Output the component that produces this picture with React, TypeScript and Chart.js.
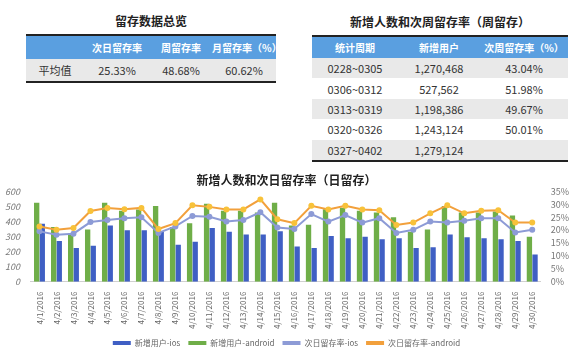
import React, { useEffect, useRef } from "react";
import { Chart, registerables } from "chart.js";

Chart.register(...registerables);

const dates = [
  "4/1/2016", "4/2/2016", "4/3/2016", "4/4/2016", "4/5/2016", "4/6/2016", "4/7/2016", "4/8/2016",
  "4/9/2016", "4/10/2016", "4/11/2016", "4/12/2016", "4/13/2016", "4/14/2016", "4/15/2016",
  "4/16/2016", "4/17/2016", "4/18/2016", "4/19/2016", "4/20/2016", "4/21/2016", "4/22/2016",
  "4/23/2016", "4/24/2016", "4/25/2016", "4/26/2016", "4/27/2016", "4/28/2016", "4/29/2016", "4/30/2016",
];
const newIos = [385, 271, 224, 239, 374, 342, 342, 331, 245, 266, 357, 331, 314, 314, 335, 234, 224, 303, 288, 299, 282, 288, 224, 228, 314, 295, 288, 282, 271, 181];
const newAndroid = [524, 363, 320, 346, 524, 471, 480, 503, 363, 389, 518, 471, 471, 460, 524, 374, 379, 482, 492, 471, 460, 428, 331, 346, 503, 460, 460, 466, 439, 299];
const retIos = [19.5, 18.2, 18.6, 23.1, 23.9, 24.6, 25.0, 18.9, 21.4, 25.5, 25.2, 23.3, 23.9, 26.9, 21.0, 20.4, 26.2, 23.3, 25.8, 22.9, 24.6, 18.9, 20.1, 23.3, 22.9, 23.6, 24.6, 24.6, 19.1, 20.1];
const retAndroid = [21.4, 20.1, 20.8, 27.4, 28.6, 28.1, 28.6, 20.4, 22.7, 29.6, 29.0, 28.0, 28.0, 31.9, 24.2, 22.7, 29.4, 28.0, 29.4, 28.0, 27.7, 22.0, 22.9, 26.5, 29.6, 26.5, 27.5, 27.7, 22.9, 22.9];

const seriesNames = ["新增用户-ios", "新增用户-android", "次日留存率-ios", "次日留存率-android"];
const chartTitle = "新增人数和次日留存率（日留存）";

const summaryTitle = "留存数据总览";
const summaryHeaders = ["", "次日留存率", "周留存率", "月留存率（%）"];
const summaryRow = ["平均值", "25.33%", "48.68%", "60.62%"];

const weeklyTitle = "新增人数和次周留存率（周留存）";
const weeklyHeaders = ["统计周期", "新增用户", "次周留存率（%）"];
const weeklyPeriods = ["0228~0305", "0306~0312", "0313~0319", "0320~0326", "0327~0402"];
const weeklyUsers = ["1,270,468", "527,562", "1,198,386", "1,243,124", "1,279,124"];
const weeklyRates = ["43.04%", "51.98%", "49.67%", "50.01%", ""];

const FONT = '"Noto Sans CJK SC", "Noto Sans", sans-serif';
const HEADER_BLUE = "#5a9fe0";
const ROW_GRAY = "#e9e9e9";

function App() {
  const ref = useRef<HTMLCanvasElement | null>(null);

  useEffect(() => {
    if (!ref.current) return;
    const chart = new Chart(ref.current, {
      type: "bar",
      data: {
        labels: dates,
        datasets: [
          {
            type: "line",
            label: seriesNames[2],
            data: retIos,
            yAxisID: "y1",
            borderColor: "#8d9bd6",
            backgroundColor: "#8d9bd6",
            borderWidth: 2,
            pointRadius: 2,
            pointBackgroundColor: "#8d9bd6",
            pointBorderColor: "#8d9bd6",
            order: 1,
          },
          {
            type: "line",
            label: seriesNames[3],
            data: retAndroid,
            yAxisID: "y1",
            borderColor: "#f2a03c",
            backgroundColor: "#f2a03c",
            borderWidth: 2,
            pointRadius: 2,
            pointBackgroundColor: "#f8c23a",
            pointBorderColor: "#f8c23a",
            order: 0,
          },
          {
            type: "bar",
            label: seriesNames[0],
            data: newIos,
            yAxisID: "y",
            backgroundColor: "#3f5fc4",
            categoryPercentage: 0.66,
            barPercentage: 0.95,
            order: 3,
          },
          {
            type: "bar",
            label: seriesNames[1],
            data: newAndroid,
            yAxisID: "y",
            backgroundColor: "#6fae48",
            categoryPercentage: 0.66,
            barPercentage: 0.95,
            order: 2,
          },
        ],
      },
      options: {
        animation: false,
        responsive: false,
        maintainAspectRatio: false,
        layout: { padding: { top: 2, left: 2, right: 0, bottom: 0 } },
        plugins: {
          title: {
            display: true,
            text: chartTitle,
            font: { family: FONT, size: 12, weight: "bold" },
            color: "#222",
            padding: { top: 4, bottom: 4 },
          },
          legend: {
            position: "bottom",
            padding: 0,
            labels: {
              font: { family: FONT, size: 8 },
              color: "#666",
              boxWidth: 18,
              boxHeight: 4,
              padding: 8,
              generateLabels: (c: any) => {
                const order = [2, 3, 0, 1];
                return order.map((i) => {
                  const ds = c.data.datasets[i];
                  return {
                    text: ds.label,
                    fillStyle: ds.type === "line" ? ds.borderColor : ds.backgroundColor,
                    strokeStyle: ds.type === "line" ? ds.borderColor : ds.backgroundColor,
                    lineWidth: 0,
                    hidden: false,
                    datasetIndex: i,
                    fontColor: "#666",
                  };
                });
              },
            },
          },
          tooltip: { enabled: false },
        },
        scales: {
          x: {
            grid: { display: false },
            border: { color: "#d0d0d0" },
            ticks: {
              font: { family: FONT, size: 8 },
              color: "#666",
              minRotation: 90,
              maxRotation: 90,
              autoSkip: false,
              padding: 2,
            },
          },
          y: {
            position: "left",
            min: 0,
            max: 600,
            grid: { display: false },
            border: { display: false },
            ticks: {
              stepSize: 100,
              autoSkip: false,
              font: { family: FONT, size: 9, style: "italic" },
              color: "#777",
              padding: 3,
            },
          },
          y1: {
            position: "right",
            min: 0,
            max: 35,
            grid: { display: false },
            border: { display: false },
            ticks: {
              stepSize: 5,
              autoSkip: false,
              font: { family: FONT, size: 9 },
              color: "#777",
              padding: 2,
              callback: (v: any) => v + "%",
            },
          },
        },
      },
    });
    return () => chart.destroy();
  }, []);

  const cell = (text: string, w: number, key: number) => (
    <div key={key} style={{ width: w, textAlign: "center", whiteSpace: "nowrap" }}>
      {text}
    </div>
  );

  const leftCols = [58, 66, 62, 64];
  const rightCols = [86, 82, 88];

  return (
    <div
      style={{
        position: "absolute",
        left: 0,
        top: 0,
        width: 571,
        height: 351,
        background: "#fff",
        fontFamily: FONT,
        overflow: "hidden",
      }}
    >
      {/* Left summary table */}
      <div style={{ position: "absolute", left: 26, top: 12, width: 250, textAlign: "center", fontWeight: "bold", fontSize: 12, color: "#222" }}>
        {summaryTitle}
      </div>
      <div style={{ position: "absolute", left: 26, top: 34, width: 250, borderTop: "2px solid #222", borderBottom: "2px solid #222" }}>
        <div style={{ display: "flex", height: 23, alignItems: "center", background: HEADER_BLUE, color: "#fff", fontWeight: "bold", fontSize: 10 }}>
          {summaryHeaders.map((h, i) => cell(h, leftCols[i], i))}
        </div>
        <div style={{ display: "flex", height: 22, alignItems: "center", background: ROW_GRAY, color: "#333", fontSize: 11 }}>
          {summaryRow.map((h, i) => cell(h, leftCols[i], i))}
        </div>
      </div>

      {/* Right weekly table */}
      <div style={{ position: "absolute", left: 312, top: 13, width: 256, textAlign: "center", fontWeight: "bold", fontSize: 12, color: "#222" }}>
        {weeklyTitle}
      </div>
      <div style={{ position: "absolute", left: 312, top: 35, width: 256, borderTop: "2px solid #222", borderBottom: "2px solid #222" }}>
        <div style={{ display: "flex", height: 21, alignItems: "center", background: HEADER_BLUE, color: "#fff", fontWeight: "bold", fontSize: 10 }}>
          {weeklyHeaders.map((h, i) => cell(h, rightCols[i], i))}
        </div>
        {weeklyPeriods.map((p, r) => (
          <div
            key={r}
            style={{ display: "flex", height: 20.4, alignItems: "center", background: r % 2 === 0 ? ROW_GRAY : "#fff", color: "#333", fontSize: 11 }}
          >
            {cell(p, rightCols[0], 0)}
            {cell(weeklyUsers[r], rightCols[1], 1)}
            {cell(weeklyRates[r], rightCols[2], 2)}
          </div>
        ))}
      </div>

      {/* Chart */}
      <div style={{ position: "absolute", left: 0, top: 167, width: 571, height: 190 }}>
        <canvas ref={ref} width={571} height={190} style={{ width: 571, height: 190 }} />
      </div>
    </div>
  );
}

export default App;
